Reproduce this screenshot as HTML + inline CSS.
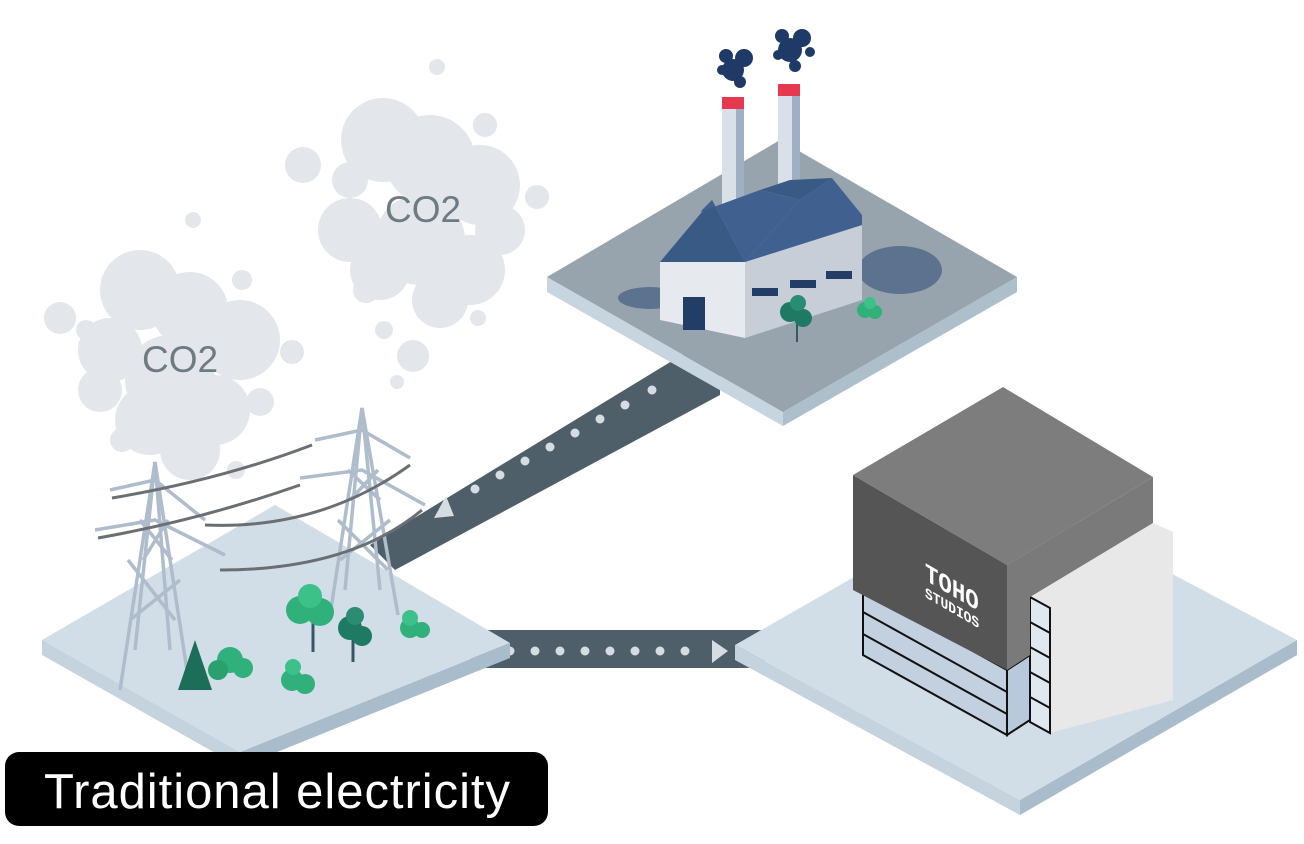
<!DOCTYPE html>
<html><head><meta charset="utf-8"><style>
html,body{margin:0;padding:0;background:#fff;width:1304px;height:844px;overflow:hidden}
svg{display:block}
</style></head><body>
<svg width="1304" height="844" viewBox="0 0 1304 844" xmlns="http://www.w3.org/2000/svg" font-family="Liberation Sans, sans-serif">
<!-- clouds -->
<g fill="#e3e7eb">
<circle cx="383" cy="140" r="42"/><circle cx="430" cy="160" r="45"/><circle cx="480" cy="185" r="40"/><circle cx="350" cy="230" r="32"/><circle cx="420" cy="240" r="45"/><circle cx="470" cy="270" r="35"/><circle cx="380" cy="270" r="30"/><circle cx="440" cy="300" r="28"/><circle cx="500" cy="230" r="25"/>
<circle cx="303" cy="165" r="18"/><circle cx="350" cy="180" r="18"/><circle cx="485" cy="125" r="12"/><circle cx="537" cy="197" r="12"/><circle cx="437" cy="67" r="8"/><circle cx="193" cy="220" r="8"/><circle cx="242" cy="280" r="10"/><circle cx="366" cy="290" r="13"/><circle cx="384" cy="330" r="9"/><circle cx="413" cy="356" r="16"/><circle cx="478" cy="318" r="8"/><circle cx="397" cy="382" r="7"/>
<circle cx="140" cy="290" r="40"/><circle cx="190" cy="310" r="38"/><circle cx="240" cy="340" r="40"/><circle cx="110" cy="350" r="32"/><circle cx="170" cy="380" r="45"/><circle cx="215" cy="410" r="35"/><circle cx="150" cy="420" r="35"/><circle cx="190" cy="450" r="30"/><circle cx="100" cy="390" r="22"/>
<circle cx="60" cy="318" r="16"/><circle cx="86" cy="330" r="10"/><circle cx="292" cy="352" r="12"/><circle cx="122" cy="440" r="12"/><circle cx="236" cy="470" r="9"/><circle cx="260" cy="402" r="14"/>
</g>
<text x="142" y="372" font-size="37" fill="#6f7b82">CO2</text>
<text x="385" y="222" font-size="37" fill="#6f7b82">CO2</text>
<!-- connectors -->
<polygon points="690,350 720,370 720,395 395,570 370,545" fill="#4f5f6a"/>
<polygon points="470,630 765,630 765,668 470,668" fill="#4f5f6a"/>
<g fill="#d6dde2">
<circle cx="652" cy="390" r="4.5"/><circle cx="625" cy="405" r="4.5"/><circle cx="600" cy="419" r="4.5"/><circle cx="575" cy="433" r="4.5"/><circle cx="550" cy="447" r="4.5"/><circle cx="525" cy="461" r="4.5"/><circle cx="500" cy="475" r="4.5"/><circle cx="475" cy="489" r="4.5"/>
<polygon points="446,496 454,516 434,518"/>
<circle cx="510" cy="651" r="4.5"/><circle cx="535" cy="651" r="4.5"/><circle cx="560" cy="651" r="4.5"/><circle cx="585" cy="651" r="4.5"/><circle cx="610" cy="651" r="4.5"/><circle cx="635" cy="651" r="4.5"/><circle cx="660" cy="651" r="4.5"/><circle cx="685" cy="651" r="4.5"/>
<polygon points="712,640 728,651 712,663"/>
</g>
<!-- factory platform -->
<polygon points="547,277 783,412 783,426 547,292" fill="#c6d5df"/>
<polygon points="783,412 1017,277 1017,292 783,426" fill="#aebfcc"/>
<polygon points="547,277 780,140 1017,277 783,412" fill="#97a4ae"/>
<!-- chimneys -->
<rect x="722" y="102" width="22" height="110" fill="#d9e0e8"/><rect x="736" y="102" width="8" height="110" fill="#9fb0c4"/>
<rect x="722" y="97" width="22" height="12" fill="#e63950"/>
<rect x="778" y="88" width="22" height="110" fill="#d9e0e8"/><rect x="792" y="88" width="8" height="110" fill="#9fb0c4"/>
<rect x="778" y="84" width="22" height="12" fill="#e63950"/>
<g fill="#1f3a66"><circle cx="733" cy="70" r="11"/><circle cx="744" cy="58" r="9"/><circle cx="726" cy="56" r="7"/><circle cx="740" cy="82" r="6"/><circle cx="722" cy="70" r="5"/><circle cx="790" cy="50" r="12"/><circle cx="802" cy="38" r="9"/><circle cx="782" cy="36" r="7"/><circle cx="795" cy="66" r="6"/><circle cx="810" cy="52" r="5"/><circle cx="778" cy="55" r="5"/></g>
<!-- coal piles -->
<ellipse cx="900" cy="270" rx="42" ry="24" fill="#4a6284" opacity=".75"/>
<ellipse cx="650" cy="298" rx="32" ry="11" fill="#4a6284" opacity=".75"/>
<!-- factory building -->
<polygon points="660,262 745,262 745,338 660,320" fill="#e6e9ee"/>
<polygon points="745,262 862,225 862,300 745,338" fill="#c7ced8"/>
<polygon points="660,262 712,200 745,262" fill="#3a5a86"/>
<polygon points="700,212 760,190 800,200 745,262 712,200" fill="#40618f"/>
<polygon points="745,262 800,200 832,178 862,215 862,225" fill="#40618f"/>
<polygon points="760,190 790,180 832,178 800,200" fill="#3a5a86"/>
<rect x="683" y="297" width="22" height="33" fill="#233e66"/>
<rect x="752" y="288" width="26" height="8" fill="#233e66"/><rect x="790" y="280" width="26" height="8" fill="#233e66"/><rect x="826" y="271" width="26" height="8" fill="#233e66"/>
<!-- factory trees -->
<line x1="797" y1="320" x2="797" y2="342" stroke="#35576a" stroke-width="2"/>
<circle cx="790" cy="312" r="10" fill="#1f7a64"/><circle cx="803" cy="318" r="9" fill="#1f7a64"/><circle cx="798" cy="303" r="8" fill="#2a8c70"/>
<circle cx="865" cy="310" r="8" fill="#31b07a"/><circle cx="875" cy="312" r="7" fill="#31b07a"/><circle cx="870" cy="303" r="6" fill="#3cc288"/>
<!-- left platform -->
<polygon points="42,640 240,752 240,767 42,655" fill="#c4d3de"/>
<polygon points="240,752 510,643 510,658 240,767" fill="#a9bccb"/>
<polygon points="42,640 275,505 510,643 240,752" fill="#d2dee7"/>
<!-- towers -->
<g stroke="#aebccc" stroke-width="3.5" fill="none">
<polyline points="120,690 155,462 190,690"/><polyline points="135,650 155,462 170,650"/>
<path d="M130,620 L180,580 M128,560 L175,620 M140,520 L172,560 M143,560 L168,520"/>
<polyline points="330,615 362,408 398,615"/><polyline points="345,590 362,408 380,590"/>
<path d="M340,560 L390,520 M338,520 L388,570 M348,470 L380,500 M350,500 L378,470"/>
<polyline points="110,490 155,480 205,520"/><polyline points="95,530 155,520 225,555"/>
<polyline points="315,440 362,430 410,458"/><polyline points="300,478 362,470 425,505"/>
</g>
<g stroke="#6b6f73" stroke-width="3" fill="none">
<path d="M112,498 Q220,480 312,445"/><path d="M98,538 Q200,520 300,485"/><path d="M205,525 Q320,530 410,465"/><path d="M220,570 Q350,570 422,510"/>
</g>
<!-- left trees -->
<g>
<polygon points="195,640 178,690 212,690" fill="#1d6e58"/>
<circle cx="230" cy="660" r="13" fill="#30b07a"/><circle cx="243" cy="668" r="10" fill="#30b07a"/><circle cx="218" cy="670" r="10" fill="#2aa06f"/>
<line x1="313" y1="615" x2="313" y2="652" stroke="#35576a" stroke-width="3"/>
<circle cx="300" cy="610" r="14" fill="#30b07a"/><circle cx="320" cy="612" r="14" fill="#30b07a"/><circle cx="310" cy="596" r="12" fill="#3cc288"/>
<line x1="353" y1="635" x2="353" y2="662" stroke="#35576a" stroke-width="3"/>
<circle cx="350" cy="628" r="12" fill="#1f7a64"/><circle cx="362" cy="636" r="10" fill="#1f7a64"/><circle cx="355" cy="616" r="9" fill="#2a8c70"/>
<circle cx="292" cy="680" r="11" fill="#30b07a"/><circle cx="305" cy="684" r="10" fill="#30b07a"/><circle cx="293" cy="667" r="8" fill="#3cc288"/>
<circle cx="410" cy="628" r="10" fill="#30b07a"/><circle cx="422" cy="630" r="8" fill="#30b07a"/><circle cx="410" cy="618" r="8" fill="#3cc288"/>
</g>
<!-- right platform -->
<polygon points="735,645 1020,800 1020,815 735,660" fill="#c4d3de"/>
<polygon points="1020,800 1297,640 1297,655 1020,815" fill="#a9bccb"/>
<polygon points="735,645 1010,488 1297,640 1020,800" fill="#d2dee7"/>
<!-- TOHO building -->
<polygon points="863,590 1007,670 1007,735 863,655" fill="#c2d0e0" stroke="#111" stroke-width="2"/>
<line x1="863" y1="612" x2="1007" y2="692" stroke="#111" stroke-width="2"/><line x1="863" y1="634" x2="1007" y2="714" stroke="#111" stroke-width="2"/>
<polygon points="1007,670 1030,655 1030,720 1007,735" fill="#b9c9dc" stroke="#111" stroke-width="2"/>
<polygon points="1030,597 1153,523 1173,532 1173,700 1050,733 1050,608" fill="#e8e8e8"/>
<polygon points="1030,597 1050,608 1050,733 1030,722" fill="#dfe7ef" stroke="#111" stroke-width="2"/>
<g stroke="#111" stroke-width="2"><line x1="1030" y1="622" x2="1050" y2="633"/><line x1="1030" y1="647" x2="1050" y2="658"/><line x1="1030" y1="672" x2="1050" y2="683"/><line x1="1030" y1="697" x2="1050" y2="708"/></g>
<polygon points="853,475 1007,565 1007,670 853,590" fill="#555"/>
<polygon points="1007,565 1153,477 1153,523 1030,597 1030,655 1007,670" fill="#7a7a7a"/>
<polygon points="853,475 1003,387 1153,477 1007,565" fill="#7d7d7d"/>
<g transform="matrix(0.86,0.5,0,1,925,580)" fill="#fff" font-weight="bold">
<text x="0" y="0" font-size="26" font-family="Liberation Mono, monospace">TOHO</text>
<text x="0" y="17" font-size="15" font-family="Liberation Mono, monospace">STUDIOS</text>
</g>
<!-- label -->
<rect x="5" y="752" width="543" height="74" rx="14" fill="#000"/>
<text x="44" y="808" font-size="49" fill="#fff" textLength="466" lengthAdjust="spacing">Traditional electricity</text>
</svg>
</body></html>
